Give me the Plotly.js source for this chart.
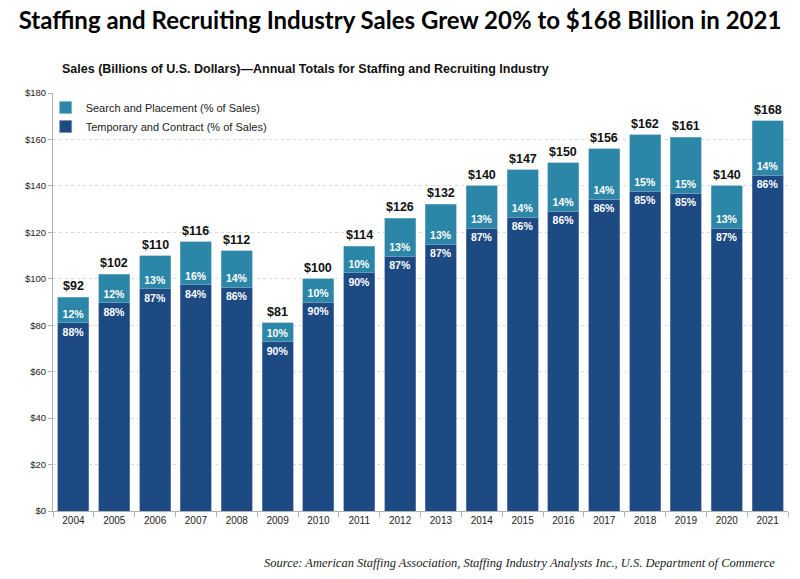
<!DOCTYPE html>
<html>
<head>
<meta charset="utf-8">
<script src="https://cdn.plot.ly/plotly-3.0.1.min.js"></script>
<style>
  html, body { margin: 0; padding: 0; background: #fff; }
  #chart { width: 800px; height: 579px; }
</style>
</head>
<body>
<div id="chart"></div>
<script>
// Annual totals (billions of U.S. dollars) and the split by segment.
const years = ['2004', '2005', '2006', '2007', '2008', '2009', '2010', '2011', '2012',
  '2013', '2014', '2015', '2016', '2017', '2018', '2019', '2020', '2021'];
const totals = [92, 102, 110, 116, 112, 81, 100, 114, 126, 132, 140, 147, 150, 156, 162, 161, 140, 168];
const temporaryPct = [88, 88, 87, 84, 86, 90, 90, 90, 87, 87, 87, 86, 86, 86, 85, 85, 87, 86];
const searchPct = [12, 12, 13, 16, 14, 10, 10, 10, 13, 13, 13, 14, 14, 14, 15, 15, 13, 14];
const yTicks = [0, 20, 40, 60, 80, 100, 120, 140, 160, 180];

// Segment heights come from the total and the share of each segment.
const temporaryVals = totals.map((t, i) => t * temporaryPct[i] / 100);
const searchVals = totals.map((t, i) => t * searchPct[i] / 100);

const darkBlue = '#1d4a82';
const teal = '#2b86a7';
const labelFont = { family: 'Liberation Sans, Arial, sans-serif', size: 10.5, color: '#ffffff', weight: 'bold' };

const traces = [
  {
    x: years, y: temporaryVals, type: 'bar', name: 'Temporary and Contract (% of Sales)',
    marker: { color: darkBlue, line: { color: '#6f8fb5', width: 0.6 } },
    text: temporaryPct.map(p => p + '%'), textposition: 'inside', insidetextanchor: 'end',
    textangle: 0, constraintext: 'none', textfont: labelFont,
    hoverinfo: 'skip'
  },
  {
    x: years, y: searchVals, type: 'bar', name: 'Search and Placement (% of Sales)',
    marker: { color: teal, line: { color: '#7fb3c9', width: 0.6 } },
    text: searchPct.map(p => p + '%'), textposition: 'inside', insidetextanchor: 'start',
    textangle: 0, constraintext: 'none', textfont: labelFont,
    hoverinfo: 'skip'
  }
];

// Dollar totals above each bar (category index on x).
const totalLabels = years.map((yr, i) => ({
  x: i, y: totals[i], xref: 'x', yref: 'y', text: '$' + totals[i],
  showarrow: false, yanchor: 'bottom', yshift: 2,
  font: { family: 'Liberation Sans, Arial, sans-serif', size: 12.5, color: '#111', weight: 'bold' }
}));

const layout = {
  width: 800, height: 579,
  margin: { l: 53, r: 12, t: 93, b: 68 },
  paper_bgcolor: '#ffffff', plot_bgcolor: '#ffffff',
  barmode: 'stack', bargap: 0.24,
  showlegend: true,
  legend: {
    x: -0.01, y: 1.0, xanchor: 'left', yanchor: 'top',
    traceorder: 'reversed', bgcolor: 'rgba(0,0,0,0)',
    font: { family: 'Liberation Sans, Arial, sans-serif', size: 11, color: '#222' },
    itemwidth: 30, tracegroupgap: 0
  },
  title: {
    text: '<b>Staffing and Recruiting Industry Sales Grew 20% to $168 Billion in 2021</b>',
    x: 0.5, xanchor: 'center', y: 0.965, yanchor: 'middle',
    font: { family: 'Lato, sans-serif', size: 24, color: '#000' }
  },
  xaxis: {
    type: 'category', range: [-0.5, years.length - 0.5],
    showgrid: false, showline: true, linecolor: '#b0b0b0', linewidth: 1,
    ticks: 'outside', tickson: 'boundaries', ticklen: 5, tickcolor: '#b0b0b0',
    tickfont: { family: 'Liberation Sans, Arial, sans-serif', size: 10, color: '#222' }
  },
  yaxis: {
    range: [0, 180], tickvals: yTicks, ticktext: yTicks.map(v => '$' + v),
    showline: true, linecolor: '#b0b0b0', linewidth: 1,
    ticks: 'outside', ticklen: 4, tickcolor: '#b0b0b0',
    showgrid: true, gridcolor: '#dadada', griddash: 'dot', gridwidth: 1,
    zeroline: false,
    tickfont: { family: 'Liberation Sans, Arial, sans-serif', size: 9.5, color: '#222' }
  },
  annotations: totalLabels.concat([
    {
      xref: 'paper', yref: 'paper', x: 0.01, y: 1.058, xanchor: 'left', yanchor: 'middle',
      text: '<b>Sales (Billions of U.S. Dollars)—Annual Totals for Staffing and Recruiting Industry</b>',
      showarrow: false,
      font: { family: 'Liberation Sans, Arial, sans-serif', size: 12.5, color: '#111' }
    },
    {
      xref: 'paper', yref: 'paper', x: 0.985, y: -0.125, xanchor: 'right', yanchor: 'middle',
      text: '<i>Source: American Staffing Association, Staffing Industry Analysts Inc., U.S. Department of Commerce</i>',
      showarrow: false,
      font: { family: 'Liberation Serif, Times New Roman, serif', size: 12.5, color: '#222' }
    }
  ])
};

Plotly.newPlot('chart', traces, layout, { displayModeBar: false, staticPlot: true });
</script>
</body>
</html>
